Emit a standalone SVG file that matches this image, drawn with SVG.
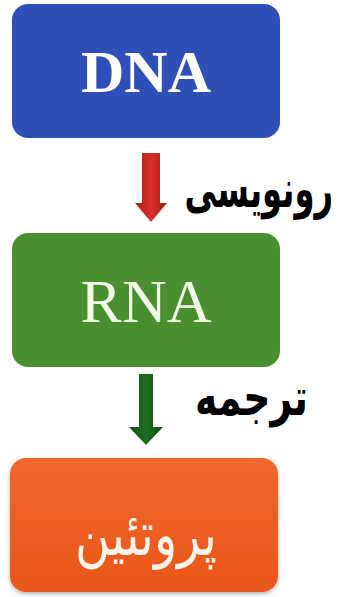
<svg xmlns="http://www.w3.org/2000/svg" width="339" height="597" viewBox="0 0 339 597">
<style>
.lbl{font-family:"DejaVu Sans",sans-serif;font-weight:bold;fill:#000;}
.latin{font-family:"Liberation Serif","Times New Roman",serif;text-anchor:middle;}
</style>
<defs>
<linearGradient id="gRed" x1="0" y1="0" x2="1" y2="0">
<stop offset="0" stop-color="#a81c14"/><stop offset="0.5" stop-color="#d8302a"/><stop offset="1" stop-color="#a81c14"/>
</linearGradient>
<linearGradient id="gGreen" x1="0" y1="0" x2="1" y2="0">
<stop offset="0" stop-color="#0f5010"/><stop offset="0.5" stop-color="#1d6e1f"/><stop offset="1" stop-color="#0f5010"/>
</linearGradient>
<linearGradient id="gOrange" x1="0" y1="0" x2="0" y2="1">
<stop offset="0" stop-color="#f1682c"/><stop offset="1" stop-color="#e9561a"/>
</linearGradient>
<filter id="sh" x="-10%" y="-10%" width="120%" height="125%">
<feDropShadow dx="0" dy="2" stdDeviation="2" flood-color="#000" flood-opacity="0.3"/>
</filter>
</defs>
<rect width="339" height="597" fill="#fff"/>
<g id="connectors">
<path d="M142 153 H160 V203 H167 L151 222 L135 203 H142 Z" fill="url(#gRed)"/>
<path d="M139 374 H153 V427 H163 L146 445 L129 427 H139 Z" fill="url(#gGreen)"/>
<text class="lbl" transform="translate(333,207) scale(0.62,1)" font-size="52" text-anchor="end">رونویسی</text>
<text class="lbl" transform="translate(308,415) scale(0.725,1)" font-size="52" text-anchor="end">ترجمه</text>
</g>
<g id="dna">
<rect x="12" y="4" width="268" height="134" rx="16" fill="#2d4fb7"/>
<text class="latin" x="146" y="92" font-size="60" font-weight="bold" fill="#fff">DNA</text>
</g>
<g id="rna">
<rect x="12" y="233" width="268" height="134" rx="16" fill="#4a8f2f"/>
<text class="latin" x="146" y="322" font-size="62" fill="#effbe6">RNA</text>
</g>
<g id="protein">
<rect x="10" y="458" width="268" height="134" rx="16" fill="url(#gOrange)" filter="url(#sh)"/>
<text transform="translate(146,555) scale(0.8,1)" font-size="60" text-anchor="middle" fill="#fff4ea" font-family="'DejaVu Sans',sans-serif">پروتئین</text>
</g>
</svg>
